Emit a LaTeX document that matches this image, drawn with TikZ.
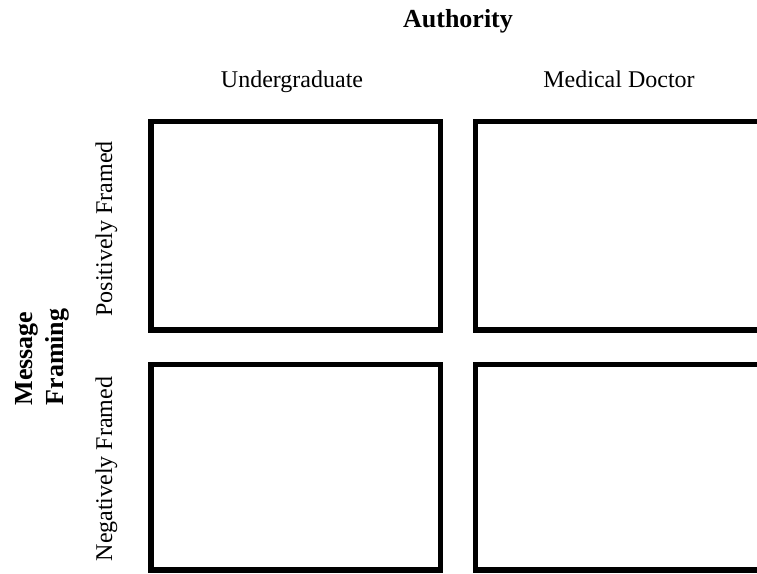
\documentclass[tikz,border=0pt]{standalone}
\usepackage{fontspec}
\setmainfont{Liberation Serif}
\begin{document}
\begin{tikzpicture}[x=1pt,y=-1pt,
  cell/.style={draw=black, line width=5.5pt, line join=miter, inner sep=0pt, outer sep=0pt, minimum width=289.5pt},
  lab/.style={inner sep=0pt, anchor=base, font=\fontsize{24pt}{28pt}\selectfont},
  blab/.style={inner sep=0pt, anchor=base, font=\fontsize{26pt}{30pt}\selectfont\bfseries}]
\useasboundingbox (0,0) rectangle (757,573);
\node[blab] (auth) at (458,27) {Authority};
\node[lab] (ug) at (292,87) {Undergraduate};
\node[lab] (md) at (619,87) {Medical Doctor};
\node[cell, minimum height=208.5pt] (tl) at (295.75,225.75) {};
\node[cell, minimum height=208.5pt] (tr) at (620.25,225.75) {};
\node[cell, minimum height=205.5pt] (bl) at (295.75,467.25) {};
\node[cell, minimum height=205.5pt] (br) at (620.25,467.25) {};
\node[lab, rotate=90] (pf) at (112,229) {Positively Framed};
\node[lab, rotate=90] (nf) at (112,469) {Negatively Framed};
\node[blab, rotate=90] (msg) at (32,358.5) {Message};
\node[blab, rotate=90] (frm) at (63,357) {Framing};
\end{tikzpicture}
\end{document}
